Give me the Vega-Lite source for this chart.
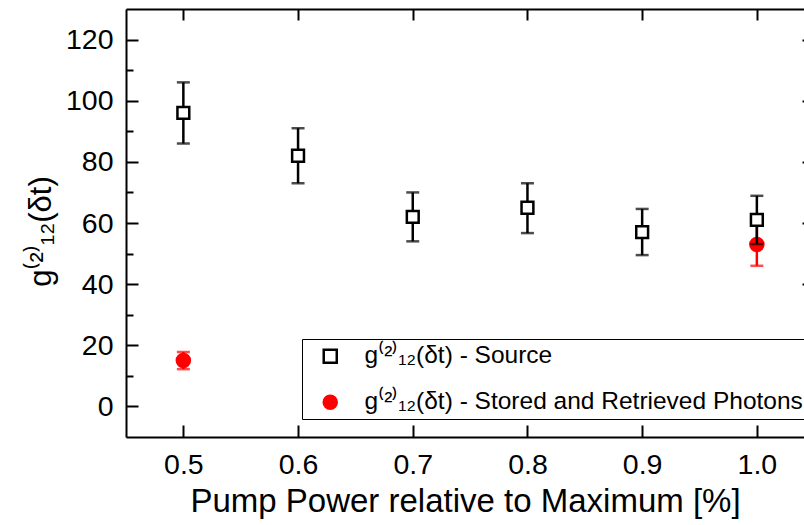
{
  "$schema": "https://vega.github.io/schema/vega-lite/v6.json",
  "width": 678,
  "height": 428,
  "autosize": "none",
  "padding": {"left": 126, "top": 9, "right": 0, "bottom": 88},
  "background": "white",
  "view": {"stroke": null},
  "config": {
    "font": "Liberation Sans",
    "axis": {"domainColor": "black", "tickColor": "black", "labelColor": "black", "titleColor": "black", "grid": false, "domainWidth": 2, "tickWidth": 2, "labelFont": "Liberation Sans", "titleFont": "Liberation Sans", "titleFontWeight": "normal"},
    "legend": {"orient": "none", "legendX": 176, "legendY": 330, "labelFontSize": 24.5, "labelColor": "black", "labelFont": "Liberation Sans", "padding": 5, "strokeColor": "black", "fillColor": "white", "rowPadding": 21, "symbolStrokeWidth": 2.5, "symbolSize": 170, "symbolOffset": 11, "labelOffset": 22, "labelLimit": 0}
  },
  "datasets": {
    "src": [
      {"p": 0.5, "g": 96, "lo": 86, "hi": 106, "s": "g⁽²⁾₁₂(δt) - Source"},
      {"p": 0.6, "g": 82, "lo": 73, "hi": 91, "s": "g⁽²⁾₁₂(δt) - Source"},
      {"p": 0.7, "g": 62, "lo": 54, "hi": 70, "s": "g⁽²⁾₁₂(δt) - Source"},
      {"p": 0.8, "g": 65, "lo": 56.7, "hi": 73, "s": "g⁽²⁾₁₂(δt) - Source"},
      {"p": 0.9, "g": 57, "lo": 49.5, "hi": 64.6, "s": "g⁽²⁾₁₂(δt) - Source"},
      {"p": 1.0, "g": 61, "lo": 53.1, "hi": 68.9, "s": "g⁽²⁾₁₂(δt) - Source"}
    ],
    "sr": [
      {"p": 0.5, "g": 15, "lo": 12.2, "hi": 17.8, "s": "g⁽²⁾₁₂(δt) - Stored and Retrieved Photons"},
      {"p": 1.0, "g": 53, "lo": 46, "hi": 60.3, "s": "g⁽²⁾₁₂(δt) - Stored and Retrieved Photons"}
    ]
  },
  "resolve": {"axis": {"x": "independent", "y": "independent"}},
  "layer": [
    {
      "data": {"name": "sr"},
      "mark": {"type": "rule", "color": "red", "strokeWidth": 2.5},
      "encoding": {
        "x": {"field": "p", "type": "quantitative", "scale": {"domain": [0.45, 1.0411], "nice": false, "zero": false},
          "axis": {"orient": "bottom", "values": [0.5, 0.6, 0.7, 0.8, 0.9, 1.0], "format": ".1f", "tickSize": -12, "labelPadding": 25, "labelFontSize": 28.5, "title": "Pump Power relative to Maximum [%]", "titleFontSize": 33, "titlePadding": 7}},
        "y": {"field": "lo", "type": "quantitative", "scale": {"domain": [-10, 130], "nice": false, "zero": false},
          "axis": {"orient": "left", "values": [0, 20, 40, 60, 80, 100, 120], "tickSize": -12, "labelPadding": 25, "labelFontSize": 28.5, "title": "g⁽²⁾₁₂(δt)", "titleFontSize": 31, "titleX": -85, "titleY": 222, "titleAlign": "center", "titleBaseline": "middle"}},
        "y2": {"field": "hi"}
      }
    },
    {
      "data": {"name": "sr"},
      "transform": [{"fold": ["lo", "hi"], "as": ["k", "v"]}],
      "mark": {"type": "tick", "orient": "horizontal", "color": "red", "size": 13, "thickness": 2.5},
      "encoding": {
        "x": {"field": "p", "type": "quantitative", "scale": {"domain": [0.45, 1.0411], "nice": false, "zero": false},
          "axis": {"orient": "top", "values": [0.5, 0.6, 0.7, 0.8, 0.9, 1.0], "labels": false, "tickSize": -11, "title": null}},
        "y": {"field": "v", "type": "quantitative", "scale": {"domain": [-10, 130], "nice": false, "zero": false},
          "axis": {"orient": "left", "values": [10, 30, 50, 70, 90, 110], "labels": false, "domain": false, "tickSize": -7, "title": null}}
      }
    },
    {
      "data": {"name": "sr"},
      "mark": {"type": "point", "filled": true, "size": 170, "strokeWidth": 2.5, "opacity": 1},
      "encoding": {
        "x": {"field": "p", "type": "quantitative", "axis": null},
        "y": {"field": "g", "type": "quantitative",
          "axis": {"orient": "right", "values": [0, 20, 40, 60, 80, 100, 120], "labels": false, "domain": false, "tickSize": -12, "offset": 10, "title": null}},
        "shape": {"field": "s", "type": "nominal", "scale": {"domain": ["g⁽²⁾₁₂(δt) - Source", "g⁽²⁾₁₂(δt) - Stored and Retrieved Photons"], "range": ["square", "circle"]}, "legend": {"title": null}},
        "fill": {"field": "s", "type": "nominal", "scale": {"domain": ["g⁽²⁾₁₂(δt) - Source", "g⁽²⁾₁₂(δt) - Stored and Retrieved Photons"], "range": ["white", "red"]}, "legend": {"title": null}},
        "stroke": {"field": "s", "type": "nominal", "scale": {"domain": ["g⁽²⁾₁₂(δt) - Source", "g⁽²⁾₁₂(δt) - Stored and Retrieved Photons"], "range": ["black", "red"]}, "legend": {"title": null}}
      }
    },
    {
      "data": {"name": "src"},
      "mark": {"type": "rule", "color": "black", "strokeWidth": 2.5},
      "encoding": {
        "x": {"field": "p", "type": "quantitative", "axis": null},
        "y": {"field": "lo", "type": "quantitative", "axis": null},
        "y2": {"field": "hi"}
      }
    },
    {
      "data": {"name": "src"},
      "transform": [{"fold": ["lo", "hi"], "as": ["k", "v"]}],
      "mark": {"type": "tick", "orient": "horizontal", "color": "black", "size": 13, "thickness": 2.5},
      "encoding": {
        "x": {"field": "p", "type": "quantitative", "axis": null},
        "y": {"field": "v", "type": "quantitative", "axis": null}
      }
    },
    {
      "data": {"name": "src"},
      "mark": {"type": "point", "filled": true, "size": 140, "strokeWidth": 2.5, "opacity": 1},
      "encoding": {
        "x": {"field": "p", "type": "quantitative", "axis": null},
        "y": {"field": "g", "type": "quantitative", "axis": null},
        "shape": {"field": "s", "type": "nominal", "scale": {"domain": ["g⁽²⁾₁₂(δt) - Source", "g⁽²⁾₁₂(δt) - Stored and Retrieved Photons"], "range": ["square", "circle"]}, "legend": {"title": null}},
        "fill": {"field": "s", "type": "nominal", "scale": {"domain": ["g⁽²⁾₁₂(δt) - Source", "g⁽²⁾₁₂(δt) - Stored and Retrieved Photons"], "range": ["white", "red"]}, "legend": {"title": null}},
        "stroke": {"field": "s", "type": "nominal", "scale": {"domain": ["g⁽²⁾₁₂(δt) - Source", "g⁽²⁾₁₂(δt) - Stored and Retrieved Photons"], "range": ["black", "red"]}, "legend": {"title": null}}
      }
    }
  ]
}
